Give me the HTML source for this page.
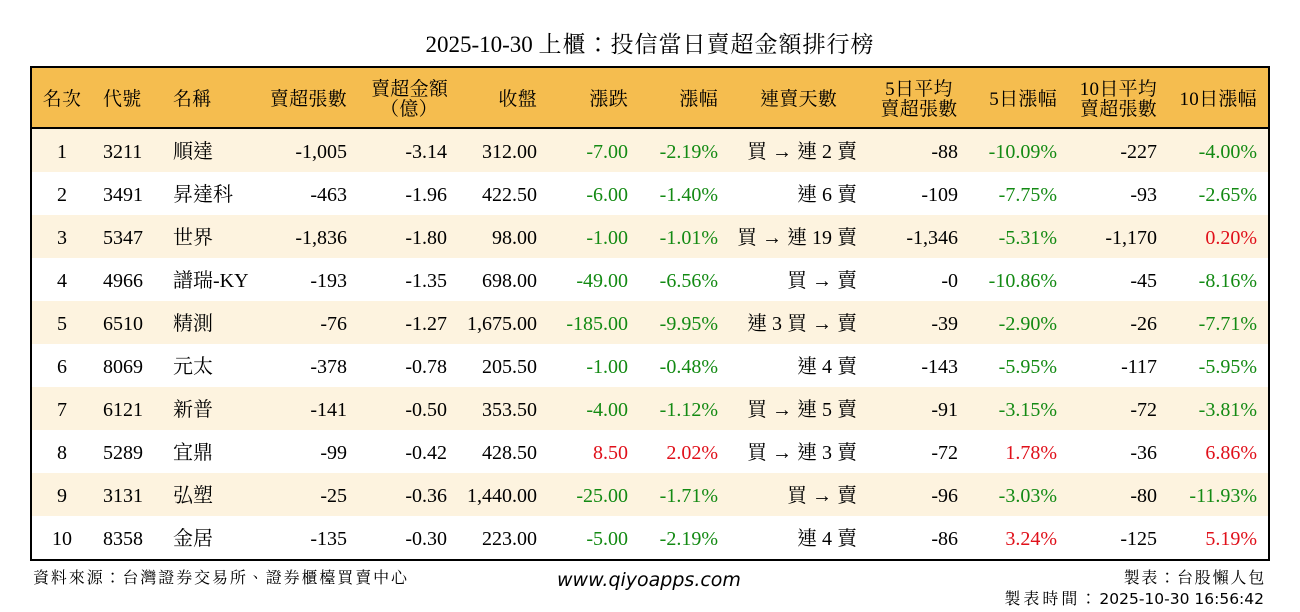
<!DOCTYPE html>
<html lang="zh-TW">
<head>
<meta charset="utf-8">
<style>
  html,body{margin:0;padding:0;}
  body{width:1300px;height:612px;background:#fff;position:relative;overflow:hidden;
       font-family:"Liberation Serif","Noto Serif CJK SC",serif;color:#000;}
  .title{position:absolute;left:0;top:31px;width:1300px;height:28px;line-height:28px;
         text-align:center;font-size:23px;white-space:nowrap;}
  .title .cj{letter-spacing:1px;}
  .tbl{position:absolute;left:30px;top:66px;width:1240px;height:495px;border:2px solid #000;
       box-sizing:border-box;}
  .hdr{position:absolute;left:32px;top:68px;width:1236px;height:59px;background:#f5bd4f;
       border-bottom:2px solid #000;}
  .hdr span{position:absolute;top:2px;height:59px;line-height:59px;font-size:19px;white-space:nowrap;letter-spacing:0.3px;}
  .hdr .two{line-height:20px;top:12px;height:40px;text-align:center;}
  .row{position:absolute;left:32px;width:1236px;height:43px;}
  .row.o{background:#fdf3df;}
  .row span{position:absolute;top:2px;height:43px;line-height:43px;font-size:20px;white-space:nowrap;}
  .c1{left:0;width:60px;text-align:center;}
  .c2{left:71px;}
  .c3{left:141px;}
  .c4{right:921px;}
  .c5{right:821px;}
  .c6{right:731px;}
  .c7{right:640px;}
  .c8{right:550px;}
  .c9{right:411px;}
  .c10{right:310px;}
  .c11{right:211px;}
  .c12{right:111px;}
  .c13{right:11px;}
  .g{color:#138a13;}
  .r{color:#e0101a;}
  .foot{position:absolute;white-space:nowrap;font-family:"Noto Serif CJK SC","Liberation Serif",serif;}
  .src{left:33px;top:567px;height:20px;line-height:20px;font-size:16px;letter-spacing:1.9px;}
  .www{left:557px;top:569px;height:22px;line-height:22px;font-size:19px;font-family:"DejaVu Sans",sans-serif;font-style:italic;}
  .mk{right:34px;top:567px;height:20px;line-height:20px;font-size:16px;letter-spacing:1.8px;}
  .tm{right:36px;top:588px;height:20px;line-height:20px;font-size:16px;}
  .tm .cj{letter-spacing:3px;}
  .tm .n{font-family:"DejaVu Sans",sans-serif;font-size:15.5px;}
</style>
</head>
<body>
<div class="title">2025-10-30 <span class="cj">上櫃：投信當日賣超金額排行榜</span></div>

<div class="tbl"></div>
<div class="hdr">
  <span class="c1">名次</span>
  <span class="c2">代號</span>
  <span class="c3">名稱</span>
  <span class="c4">賣超張數</span>
  <span class="two" style="left:339px;width:76px;">賣超金額<br>（億）</span>
  <span class="c6">收盤</span>
  <span class="c7">漲跌</span>
  <span class="c8">漲幅</span>
  <span style="left:728px;">連賣天數</span>
  <span class="two" style="left:848px;width:78px;">5日平均<br>賣超張數</span>
  <span class="c11">5日漲幅</span>
  <span class="two" style="left:1047px;width:79px;">10日平均<br>賣超張數</span>
  <span class="c13">10日漲幅</span>
</div>

<div class="row o" style="top:129px;">
  <span class="c1">1</span><span class="c2">3211</span><span class="c3">順達</span>
  <span class="c4">-1,005</span><span class="c5">-3.14</span><span class="c6">312.00</span>
  <span class="c7 g">-7.00</span><span class="c8 g">-2.19%</span><span class="c9">買 → 連 2 賣</span>
  <span class="c10">-88</span><span class="c11 g">-10.09%</span><span class="c12">-227</span><span class="c13 g">-4.00%</span>
</div>
<div class="row" style="top:172px;">
  <span class="c1">2</span><span class="c2">3491</span><span class="c3">昇達科</span>
  <span class="c4">-463</span><span class="c5">-1.96</span><span class="c6">422.50</span>
  <span class="c7 g">-6.00</span><span class="c8 g">-1.40%</span><span class="c9">連 6 賣</span>
  <span class="c10">-109</span><span class="c11 g">-7.75%</span><span class="c12">-93</span><span class="c13 g">-2.65%</span>
</div>
<div class="row o" style="top:215px;">
  <span class="c1">3</span><span class="c2">5347</span><span class="c3">世界</span>
  <span class="c4">-1,836</span><span class="c5">-1.80</span><span class="c6">98.00</span>
  <span class="c7 g">-1.00</span><span class="c8 g">-1.01%</span><span class="c9">買 → 連 19 賣</span>
  <span class="c10">-1,346</span><span class="c11 g">-5.31%</span><span class="c12">-1,170</span><span class="c13 r">0.20%</span>
</div>
<div class="row" style="top:258px;">
  <span class="c1">4</span><span class="c2">4966</span><span class="c3">譜瑞-KY</span>
  <span class="c4">-193</span><span class="c5">-1.35</span><span class="c6">698.00</span>
  <span class="c7 g">-49.00</span><span class="c8 g">-6.56%</span><span class="c9">買 → 賣</span>
  <span class="c10">-0</span><span class="c11 g">-10.86%</span><span class="c12">-45</span><span class="c13 g">-8.16%</span>
</div>
<div class="row o" style="top:301px;">
  <span class="c1">5</span><span class="c2">6510</span><span class="c3">精測</span>
  <span class="c4">-76</span><span class="c5">-1.27</span><span class="c6">1,675.00</span>
  <span class="c7 g">-185.00</span><span class="c8 g">-9.95%</span><span class="c9">連 3 買 → 賣</span>
  <span class="c10">-39</span><span class="c11 g">-2.90%</span><span class="c12">-26</span><span class="c13 g">-7.71%</span>
</div>
<div class="row" style="top:344px;">
  <span class="c1">6</span><span class="c2">8069</span><span class="c3">元太</span>
  <span class="c4">-378</span><span class="c5">-0.78</span><span class="c6">205.50</span>
  <span class="c7 g">-1.00</span><span class="c8 g">-0.48%</span><span class="c9">連 4 賣</span>
  <span class="c10">-143</span><span class="c11 g">-5.95%</span><span class="c12">-117</span><span class="c13 g">-5.95%</span>
</div>
<div class="row o" style="top:387px;">
  <span class="c1">7</span><span class="c2">6121</span><span class="c3">新普</span>
  <span class="c4">-141</span><span class="c5">-0.50</span><span class="c6">353.50</span>
  <span class="c7 g">-4.00</span><span class="c8 g">-1.12%</span><span class="c9">買 → 連 5 賣</span>
  <span class="c10">-91</span><span class="c11 g">-3.15%</span><span class="c12">-72</span><span class="c13 g">-3.81%</span>
</div>
<div class="row" style="top:430px;">
  <span class="c1">8</span><span class="c2">5289</span><span class="c3">宜鼎</span>
  <span class="c4">-99</span><span class="c5">-0.42</span><span class="c6">428.50</span>
  <span class="c7 r">8.50</span><span class="c8 r">2.02%</span><span class="c9">買 → 連 3 賣</span>
  <span class="c10">-72</span><span class="c11 r">1.78%</span><span class="c12">-36</span><span class="c13 r">6.86%</span>
</div>
<div class="row o" style="top:473px;">
  <span class="c1">9</span><span class="c2">3131</span><span class="c3">弘塑</span>
  <span class="c4">-25</span><span class="c5">-0.36</span><span class="c6">1,440.00</span>
  <span class="c7 g">-25.00</span><span class="c8 g">-1.71%</span><span class="c9">買 → 賣</span>
  <span class="c10">-96</span><span class="c11 g">-3.03%</span><span class="c12">-80</span><span class="c13 g">-11.93%</span>
</div>
<div class="row" style="top:516px;">
  <span class="c1">10</span><span class="c2">8358</span><span class="c3">金居</span>
  <span class="c4">-135</span><span class="c5">-0.30</span><span class="c6">223.00</span>
  <span class="c7 g">-5.00</span><span class="c8 g">-2.19%</span><span class="c9">連 4 賣</span>
  <span class="c10">-86</span><span class="c11 r">3.24%</span><span class="c12">-125</span><span class="c13 r">5.19%</span>
</div>

<div class="foot src">資料來源：台灣證券交易所、證券櫃檯買賣中心</div>
<div class="foot www">www.qiyoapps.com</div>
<div class="foot mk">製表：台股懶人包</div>
<div class="foot tm"><span class="cj">製表時間：</span><span class="n">2025-10-30 16:56:42</span></div>
</body>
</html>
